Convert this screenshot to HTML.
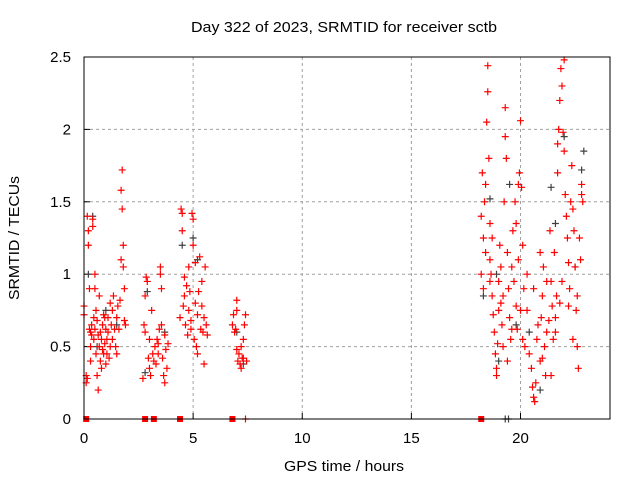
<!DOCTYPE html>
<html><head><meta charset="utf-8"><style>
body{margin:0;background:#fff;}
svg{display:block;font-family:"Liberation Sans",sans-serif;}
</style></head><body>
<svg id="chart" width="640" height="480" xmlns="http://www.w3.org/2000/svg">
<text x="344" y="32" font-size="15" text-anchor="middle" textLength="306" lengthAdjust="spacingAndGlyphs">Day 322 of 2023, SRMTID for receiver sctb</text>
<text transform="translate(19,238) rotate(-90)" font-size="15" text-anchor="middle" textLength="124" lengthAdjust="spacingAndGlyphs">SRMTID / TECUs</text>
<text x="344" y="471" font-size="15" text-anchor="middle" textLength="120" lengthAdjust="spacingAndGlyphs">GPS time / hours</text>
<g id="grid"></g>
<g id="gray"></g>
<g id="red"></g>
<rect x="84" y="57" width="526" height="362" fill="none" stroke="#000" stroke-width="1"/>
</svg>
<script>
const xTicks=[0,5,10,15,20];
const yTicks=[0,0.5,1,1.5,2,2.5];
const yTickLabels=["0","0.5","1","1.5","2","2.5"];
const redT=[0,0,0.1,0.1,0.15,0.2,0.2,0.25,0.3,0.3,0.35,0.35,0.4,0.4,0.45,0.45,0.5,0.5,0.55,0.55,0.6,0.6,0.65,0.65,0.7,0.7,0.75,0.75,0.8,0.8,0.85,0.85,0.9,0.9,0.95,0.95,1.0,1.0,1.05,1.05,1.1,1.1,1.15,1.2,1.2,1.25,1.3,1.3,1.35,1.4,1.45,1.5,1.5,1.55,1.6,1.65,1.7,1.7,1.75,1.75,1.8,1.8,1.85,1.85,1.9,0.25,0.3,0.15,0.5,
2.7,2.75,2.8,2.85,2.9,2.95,3.0,3.0,3.05,3.1,3.15,3.2,3.25,3.3,3.35,3.4,3.45,3.5,3.5,3.55,3.6,3.65,3.7,3.7,3.75,3.8,3.85,2.8,3.55,3.4,
4.4,4.45,4.5,4.5,4.55,4.6,4.65,4.7,4.75,4.8,4.85,4.9,4.95,5.0,5.0,5.05,5.1,5.1,5.15,5.2,5.25,5.3,5.35,5.4,5.45,5.5,5.5,5.55,5.6,5.65,4.6,4.8,5.2,4.9,5.4,
6.8,6.85,6.9,6.95,7.0,7.0,7.05,7.1,7.15,7.2,7.25,7.3,7.35,7.4,7.45,7.0,7.2,7.3,
18.2,18.25,18.3,18.35,18.4,18.45,18.5,18.5,18.55,18.6,18.6,18.65,18.7,18.75,18.8,18.85,18.9,18.95,19.0,19.05,19.1,19.15,19.2,19.25,19.3,19.3,19.35,19.4,19.45,19.5,19.55,19.6,19.65,19.7,19.75,19.8,19.85,19.9,19.95,20.0,20.05,20.1,20.15,18.3,18.4,18.7,18.9,19.0,19.2,19.4,19.6,19.8,20.0,20.1,18.2,18.6,19.1,19.9,
20.2,20.3,20.4,20.5,20.55,20.6,20.65,20.7,20.75,20.8,20.9,20.95,21.0,21.05,21.1,21.15,21.2,21.3,21.35,21.4,21.45,21.5,21.55,21.6,21.65,21.7,21.7,21.75,21.8,21.85,21.9,21.95,22.0,22.05,22.1,22.15,22.2,22.25,22.3,22.35,22.4,22.45,22.5,22.55,22.6,22.65,22.7,22.75,22.8,22.85,20.3,20.6,20.9,21.2,21.4,21.6,21.9,22.2,22.4,22.6,22.8,21.0,21.8,22.0];
const redV=[0.78,0.72,0.3,0.25,1.4,1.3,1.2,0.62,0.6,0.5,0.65,0.58,1.38,1.33,0.55,0.7,0.9,0.62,0.45,0.75,0.68,0.3,0.2,0.58,0.85,0.5,0.6,0.4,0.55,0.35,0.65,0.48,0.45,0.72,0.7,0.52,0.38,0.62,0.55,0.45,0.6,0.7,0.42,0.5,0.8,0.65,0.75,0.55,0.85,0.62,0.5,0.45,0.7,0.78,0.62,0.82,1.1,1.58,1.72,1.45,1.2,1.05,0.68,0.9,0.65,0.9,0.4,0.28,1.0,
0.28,0.65,0.6,0.98,0.95,0.42,0.35,0.55,0.3,0.75,0.45,0.4,0.5,0.38,0.55,0.45,0.62,1.05,1.0,0.9,0.42,0.3,0.25,0.58,0.48,0.35,0.52,0.85,0.65,0.52,
0.7,1.45,1.42,1.3,0.78,0.85,0.65,0.92,0.58,0.75,0.88,0.68,1.42,1.38,1.2,0.55,1.08,0.8,0.5,0.72,0.88,1.12,0.62,0.95,0.6,0.7,0.38,1.05,0.65,0.58,0.98,1.05,0.45,0.62,0.78,
0.65,0.72,0.6,0.62,0.82,0.75,0.4,0.45,0.38,0.5,0.42,0.55,0.65,0.72,0.4,0.48,0.35,0.42,
1.4,1.7,1.25,1.5,1.62,2.05,2.44,2.26,1.8,1.35,1.1,1.0,0.85,0.72,0.6,0.45,0.35,0.52,0.95,1.2,0.8,0.65,0.5,1.5,1.95,2.15,1.8,1.15,0.9,0.7,0.55,1.05,1.3,0.95,1.5,0.78,0.62,1.62,1.7,2.06,1.6,1.2,0.9,0.9,1.15,1.25,0.3,0.75,0.85,0.4,0.62,1.35,0.75,0.55,1.0,0.95,1.05,1.1,
0.5,0.75,0.45,0.35,0.22,0.15,0.12,0.25,0.55,0.65,0.4,0.7,0.85,1.05,0.5,0.3,0.6,0.68,1.3,0.95,0.78,0.55,1.15,0.7,0.85,1.7,1.9,2.0,2.2,2.42,2.3,1.98,1.85,1.55,1.4,1.25,1.08,0.9,1.5,1.75,1.45,1.3,1.05,0.75,0.5,0.35,1.25,1.1,1.62,1.5,1.0,0.9,1.15,0.95,0.3,0.6,0.95,0.78,0.55,0.85,1.55,0.42,0.8,2.48];
const grayT=[0.2,0.4,0.6,1.0,1.5,2.8,2.9,3.7,4.5,5.0,5.2,7.0,7.3,18.3,18.6,19.0,19.5,19.8,20.4,20.9,21.4,21.6,22.0,22.8,22.9,22.5,18.9];
const grayV=[1.0,1.4,0.5,0.75,0.65,0.32,0.88,0.6,1.2,1.25,1.1,0.6,0.38,0.85,1.52,0.4,1.62,0.65,0.6,0.2,1.6,1.35,1.95,1.72,1.85,1.05,1.0];
const gapT=[0.1,2.8,3.2,4.4,6.8,18.2];
const NS="http://www.w3.org/2000/svg";
const X0=84,X1=610,Y0=419,Y1=57;
function sx(t){return X0+t*(X1-X0)/24.1;}
function sy(v){return Y0-v*(Y0-Y1)/2.5;}
function mk(tag,at,parent){const e=document.createElementNS(NS,tag);for(const k in at)e.setAttribute(k,at[k]);parent.appendChild(e);return e;}
const grid=document.getElementById('grid');
xTicks.forEach(t=>{
  const x=sx(t);
  if(t>0){const l=mk('line',{x1:x,x2:x,y1:Y1,y2:Y0,stroke:'#a0a0a0','stroke-dasharray':'3,3'},grid);
  
  }
  const tk=mk('line',{x1:x,x2:x,y1:Y0,y2:Y0-6,stroke:'#000'},grid);
  
  
  const tx=mk('text',{x:x,y:Y0+24,'font-size':15,'text-anchor':'middle'},grid);tx.textContent=String(t);
  
  
});
yTicks.forEach((v,i)=>{
  const y=sy(v);
  if(v>0&&v<2.5){const l=mk('line',{x1:X0,x2:X1,y1:y,y2:y,stroke:'#a0a0a0','stroke-dasharray':'3,3'},grid);
  
  }
  const tk=mk('line',{x1:X0,x2:X0+6,y1:y,y2:y,stroke:'#000'},grid);
  
  
  const tx=mk('text',{x:X0-13,y:y+5,'font-size':15,'text-anchor':'end'},grid);tx.textContent=yTickLabels[i];
  
  
});
function plus(g,t,v,c){
  const x=sx(t),y=sy(v);
  const p=mk('path',{d:`M${x-3.5},${y}H${x+3.5}M${x},${y-3.5}V${y+3.5}`,stroke:c,'stroke-width':1.2,fill:'none'},g);
  
  
}
const gg=document.getElementById('gray'),rg=document.getElementById('red');
grayT.forEach((t,i)=>plus(gg,t,grayV[i],'#404040'));
redT.forEach((t,i)=>plus(rg,t,redV[i],'#ff0000'));
gapT.forEach(t=>{
  const r=mk('rect',{x:sx(t)-3,y:Y0-3,width:6,height:6,fill:'#ff0000'},rg);
  
  
});
plus(rg,7.4,0,'#ff0000');
plus(gg,19.3,0,'#404040');
plus(gg,19.45,0,'#404040');
</script>
</body></html>
